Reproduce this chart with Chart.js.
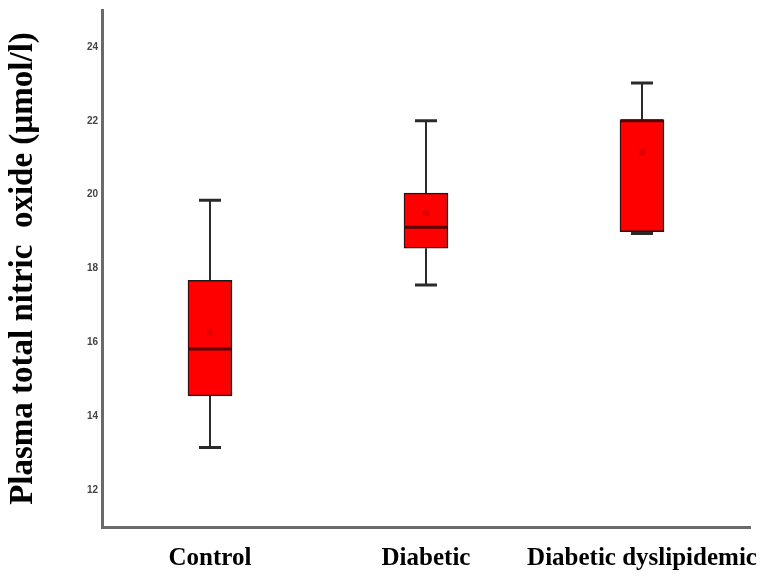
<!DOCTYPE html>
<html>
<head>
<meta charset="utf-8">
<script src="https://cdn.jsdelivr.net/npm/chart.js@4/dist/chart.umd.min.js"></script>
<style>
html,body{margin:0;padding:0;background:#fff;}
#wrap{width:763px;height:576px;}
</style>
</head>
<body>
<div id="wrap"><canvas id="c" width="763" height="576"></canvas></div>
<script>
const categories = ['Control', 'Diabetic', 'Diabetic dyslipidemic'];
const whiskerMin = [13.15, 17.55, 18.95];
const q1 = [14.55, 18.55, 19.0];
const median = [15.82, 19.12, 22.0];
const q3 = [17.68, 20.04, 22.03];
const whiskerMax = [19.85, 22.0, 23.02];
const means = [16.28, 19.5, 21.15];
const yTicks = [12, 14, 16, 18, 20, 22, 24];
const yTitle = 'Plasma total nitric  oxide (µmol/l)';

const boxPlugin = {
  id: 'boxParts',
  beforeDatasetsDraw(chart) {
    const ctx = chart.ctx;
    const xs = chart.scales.x, ys = chart.scales.y;
    ctx.save();
    ctx.strokeStyle = '#2a2a2a';
    categories.forEach((c, i) => {
      const x = xs.getPixelForValue(i);
      const yMin = ys.getPixelForValue(whiskerMin[i]);
      const yMax = ys.getPixelForValue(whiskerMax[i]);
      const yQ1 = ys.getPixelForValue(q1[i]);
      const yQ3 = ys.getPixelForValue(q3[i]);
      ctx.lineWidth = 2;
      ctx.beginPath();
      ctx.moveTo(x, yMax); ctx.lineTo(x, yQ3);
      ctx.moveTo(x, yQ1); ctx.lineTo(x, yMin);
      ctx.stroke();
      ctx.lineWidth = 3;
      ctx.beginPath();
      ctx.moveTo(x - 11, yMax); ctx.lineTo(x + 11, yMax);
      ctx.moveTo(x - 11, yMin); ctx.lineTo(x + 11, yMin);
      ctx.stroke();
    });
    ctx.restore();
  },
  afterDatasetsDraw(chart) {
    const ctx = chart.ctx;
    const xs = chart.scales.x, ys = chart.scales.y;
    ctx.save();
    ctx.strokeStyle = '#5a0000';
    ctx.lineWidth = 3;
    categories.forEach((c, i) => {
      const x = xs.getPixelForValue(i);
      const y = ys.getPixelForValue(median[i]);
      ctx.beginPath();
      ctx.moveTo(x - 21, y); ctx.lineTo(x + 21, y);
      ctx.stroke();
    });
    ctx.restore();
  }
};

new Chart(document.getElementById('c'), {
  type: 'bar',
  data: {
    labels: categories,
    datasets: [
      {
        type: 'line',
        data: means,
        showLine: false,
        pointRadius: 3.5,
        pointBorderWidth: 0,
        pointBackgroundColor: 'rgba(170,0,0,0.3)',
        order: 0
      },
      {
        data: q1.map((v, i) => [v, q3[i]]),
        backgroundColor: '#ff0000',
        borderColor: '#1a1a1a',
        borderWidth: 1.5,
        borderSkipped: false,
        barThickness: 44,
        order: 1
      }
    ]
  },
  options: {
    responsive: false,
    animation: false,
    layout: { padding: { top: 10, right: 13, left: 0, bottom: 0 } },
    plugins: { legend: { display: false }, tooltip: { enabled: false } },
    scales: {
      x: {
        offset: true,
        grid: { display: false, drawTicks: false },
        border: { display: true, color: '#6a6a6a', width: 3 },
        ticks: {
          color: '#000',
          padding: 17,
          maxRotation: 0,
          autoSkip: false,
          font: { family: 'Liberation Serif', weight: 'bold', size: 25 }
        },
        afterFit(s) { s.height = 49; s.paddingLeft = 0; s.paddingRight = 0; }
      },
      y: {
        min: 11,
        max: 25,
        grid: { display: false, drawTicks: false },
        border: { display: true, color: '#6a6a6a', width: 3 },
        afterBuildTicks(s) { s.ticks = yTicks.map(v => ({ value: v })); },
        ticks: {
          color: '#444',
          padding: 4,
          font: { family: 'Liberation Sans', weight: 'bold', size: 10 }
        },
        title: {
          display: true,
          text: yTitle,
          color: '#000',
          padding: { top: 4, bottom: 0 },
          font: { family: 'Liberation Serif', weight: 'bold', size: 33 }
        },
        afterFit(s) { s.width = 102; s.paddingTop = 0; s.paddingBottom = 0; }
      }
    }
  },
  plugins: [boxPlugin]
});
</script>
</body>
</html>
